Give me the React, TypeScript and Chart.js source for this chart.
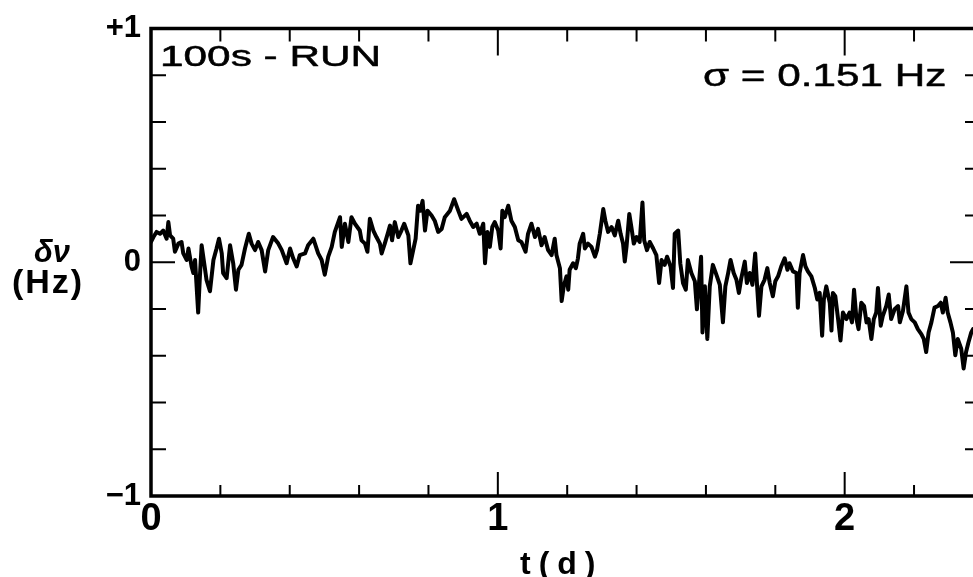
import { useEffect, useRef } from "react";
import { Chart, registerables } from "chart.js";

Chart.register(...registerables);

// Time since start of the run, in days
const tDays = [
  0.000, 0.007, 0.016, 0.026, 0.035, 0.045, 0.050, 0.055, 0.064, 0.069, 0.079, 0.088, 0.093, 0.103, 0.108, 0.117,
  0.122, 0.127, 0.136, 0.141, 0.146, 0.156, 0.160, 0.170, 0.180, 0.189, 0.196, 0.204, 0.208, 0.218, 0.228, 0.237,
  0.245, 0.252, 0.261, 0.271, 0.282, 0.290, 0.300, 0.309, 0.319, 0.329, 0.338, 0.352, 0.367, 0.377, 0.391, 0.401,
  0.410, 0.420, 0.429, 0.444, 0.453, 0.468, 0.482, 0.492, 0.501, 0.511, 0.521, 0.530, 0.545, 0.550, 0.559, 0.569,
  0.578, 0.588, 0.602,
  0.607, 0.617, 0.624, 0.631, 0.641, 0.650, 0.660, 0.665, 0.674, 0.684, 0.689, 0.695, 0.703, 0.713, 0.722, 0.730,
  0.742, 0.748, 0.756, 0.763, 0.770, 0.777, 0.783, 0.790, 0.797, 0.809, 0.818, 0.828, 0.838, 0.847, 0.862, 0.874,
  0.886, 0.895, 0.910, 0.919, 0.929, 0.939, 0.948, 0.958, 0.963, 0.970, 0.977, 0.984, 0.991, 1.001, 1.008, 1.013,
  1.020, 1.030, 1.039, 1.049, 1.059, 1.068, 1.080, 1.087, 1.097, 1.107, 1.116, 1.126, 1.135, 1.145, 1.155, 1.164,
  1.169, 1.179, 1.184,
  1.190, 1.198, 1.203, 1.207, 1.217, 1.225, 1.231, 1.236, 1.246, 1.251, 1.260, 1.270, 1.280, 1.286, 1.294, 1.304,
  1.310, 1.318, 1.328, 1.337, 1.347, 1.354, 1.361, 1.366, 1.371, 1.379, 1.385, 1.392, 1.400, 1.409, 1.417, 1.422,
  1.430, 1.438, 1.448, 1.457, 1.465, 1.472, 1.481, 1.488, 1.498, 1.505, 1.510, 1.520, 1.526, 1.534, 1.542, 1.548,
  1.558, 1.568, 1.574, 1.580, 1.586, 1.590, 1.597, 1.604, 1.611, 1.620, 1.630, 1.640, 1.649, 1.656, 1.664, 1.671,
  1.680, 1.688, 1.695, 1.702, 1.712, 1.718, 1.726, 1.734, 1.742, 1.747, 1.753, 1.760, 1.769,
  1.777, 1.784, 1.793, 1.800, 1.808, 1.817, 1.827, 1.835, 1.841, 1.851, 1.861, 1.865, 1.870, 1.880, 1.887, 1.894,
  1.904, 1.914, 1.921, 1.928, 1.935, 1.940, 1.947, 1.957, 1.962, 1.966, 1.973, 1.981, 1.988, 1.995, 2.005, 2.014,
  2.021, 2.027, 2.034, 2.040, 2.048, 2.056, 2.063, 2.069, 2.077, 2.084, 2.091, 2.096, 2.104, 2.110, 2.120, 2.127,
  2.134, 2.144, 2.154, 2.159, 2.168, 2.178, 2.184, 2.192, 2.202, 2.211, 2.221, 2.228, 2.235, 2.242, 2.250, 2.259,
  2.269, 2.277, 2.283, 2.291, 2.297, 2.305, 2.312, 2.319, 2.326, 2.336, 2.343, 2.350, 2.357, 2.365, 2.370,
];

// Frequency deviation, in Hz
const deltaNu = [
  0.087, 0.108, 0.130, 0.122, 0.136, 0.101, 0.172, 0.115, 0.101, 0.045, 0.080, 0.087, 0.038, 0.010, 0.059, -0.018,
  -0.046, 0.010, -0.215, -0.060, 0.073, -0.032, -0.075, -0.124, 0.010, 0.059, 0.101, 0.038, -0.046, -0.068, 0.073, -0.004,
  -0.117, -0.032, -0.011, 0.059, 0.122, 0.080, 0.052, 0.087, 0.052, -0.039, 0.052, 0.108, 0.080, 0.052, -0.004, 0.059,
  0.017, -0.018, 0.031, 0.038, 0.073, 0.101, 0.038, 0.010, -0.053, 0.024, 0.066, 0.130, 0.193, 0.066, 0.165, 0.087,
  0.193, 0.165, 0.136,
  0.094, 0.080, 0.045, 0.186, 0.136, 0.108, 0.080, 0.038, 0.080, 0.130, 0.157, 0.094, 0.172, 0.108, 0.136, 0.165,
  0.115, -0.004, 0.052, 0.101, 0.242, 0.221, 0.263, 0.136, 0.221, 0.200, 0.178, 0.130, 0.143, 0.193, 0.221, 0.270,
  0.221, 0.186, 0.207, 0.178, 0.151, 0.165, 0.122, 0.165, -0.004, 0.130, 0.066, 0.151, 0.172, 0.136, 0.059, 0.221,
  0.193, 0.242, 0.178, 0.151, 0.094, 0.087, 0.045, 0.122, 0.165, 0.108, 0.143, 0.073, 0.108, 0.052, 0.031, 0.101,
  0.031, -0.025, -0.166,
  -0.103, -0.060, -0.117, -0.032, -0.004, -0.025, 0.017, 0.080, 0.122, 0.059, 0.080, 0.066, 0.024, 0.052, 0.122, 0.228,
  0.178, 0.130, 0.151, 0.115, 0.178, 0.122, 0.080, 0.003, 0.066, 0.207, 0.151, 0.080, 0.108, 0.087, 0.256, 0.094,
  0.052, 0.087, 0.059, 0.031, -0.089, 0.010, -0.011, 0.024, -0.018, -0.110, 0.122, 0.136, -0.004, -0.089, -0.117, 0.010,
  -0.046, -0.081, -0.201, -0.089, 0.024, -0.300, -0.103, -0.328, -0.103, -0.011, -0.053, -0.096, -0.257, -0.103, -0.046, 0.010,
  -0.046, -0.075, -0.131, -0.068, 0.003, -0.089, -0.046, -0.096, 0.038, -0.089, -0.229, -0.103, -0.075,
  -0.025, -0.089, -0.145, -0.081, -0.060, -0.018, 0.017, -0.032, -0.004, -0.039, -0.046, -0.194, -0.046, 0.031, -0.018, -0.039,
  -0.060, -0.110, -0.159, -0.131, -0.314, -0.159, -0.103, -0.173, -0.292, -0.131, -0.145, -0.243, -0.335, -0.215, -0.243, -0.215,
  -0.257, -0.117, -0.243, -0.286, -0.173, -0.187, -0.257, -0.243, -0.328, -0.243, -0.215, -0.110, -0.271, -0.229, -0.187, -0.138,
  -0.243, -0.201, -0.187, -0.257, -0.208, -0.103, -0.215, -0.243, -0.257, -0.286, -0.307, -0.328, -0.384, -0.300, -0.257, -0.194,
  -0.187, -0.173, -0.215, -0.152, -0.215, -0.257, -0.300, -0.398, -0.328, -0.370, -0.454, -0.384, -0.342, -0.300, -0.286,
];

const xTickLabels = ["0", "1", "2"];
const yTickLabels = ["\u22121", "0", "+1"];

const runLabel = "100s - RUN";
const sigmaLabel = "\u03c3 = 0.151 Hz";
const xTitle = "t(d)";
const yTitleTop = "\u03b4\u03bd";
const yTitleBottom = "(Hz)";

const FONT = '"Liberation Sans", Arial, Helvetica, sans-serif';

const near = (a: number, b: number) => Math.abs(a - b) < 1e-6;

// Text drawn stretched sideways, with a light outline to thicken the strokes
function wideText(ctx: CanvasRenderingContext2D, text: string, x: number, y: number, size: number, sx: number) {
  ctx.save();
  ctx.translate(x, y);
  ctx.scale(sx, 1);
  ctx.font = `${size}px ${FONT}`;
  ctx.lineWidth = 0.5;
  ctx.lineJoin = "round";
  ctx.fillText(text, 0, 0);
  ctx.strokeText(text, 0, 0);
  ctx.restore();
}

// Boxed frame with inward ticks on all four sides, plus the text annotations
const framePlugin = {
  id: "frameAndText",
  afterDatasetsDraw(chart: any) {
    const { ctx, chartArea: a, scales } = chart;
    const xs = scales.x;
    const ys = scales.y;
    const rightAxis = a.right + 2;
    ctx.save();
    ctx.strokeStyle = "#000";
    ctx.fillStyle = "#000";
    ctx.lineCap = "butt";

    ctx.lineWidth = 3.5;
    ctx.beginPath();
    ctx.moveTo(a.left - 1.75, a.top);
    ctx.lineTo(a.right + 5, a.top);
    ctx.moveTo(a.left, a.top - 1.75);
    ctx.lineTo(a.left, a.bottom + 1.75);
    ctx.moveTo(a.left - 1.75, a.bottom);
    ctx.lineTo(a.right + 5, a.bottom);
    ctx.stroke();

    ctx.lineWidth = 2;
    ctx.beginPath();
    for (const t of xs.ticks) {
      const px = xs.getPixelForValue(t.value);
      const major = near(t.value, Math.round(t.value));
      ctx.moveTo(px, a.top);
      ctx.lineTo(px, a.top + (major ? 27 : 13));
      ctx.moveTo(px, a.bottom);
      ctx.lineTo(px, a.bottom - (major ? 24 : 11));
    }
    for (const t of ys.ticks) {
      const py = ys.getPixelForValue(t.value);
      const major = near(t.value, 0);
      ctx.moveTo(a.left, py);
      ctx.lineTo(a.left + (major ? 24 : 15), py);
      ctx.moveTo(rightAxis, py);
      ctx.lineTo(rightAxis - (major ? 25 : 10), py);
    }
    ctx.stroke();

    ctx.textBaseline = "alphabetic";
    ctx.textAlign = "left";

    wideText(ctx, runLabel, 160, 66, 29, 1.46);
    wideText(ctx, sigmaLabel, 703, 86, 32, 1.32);

    ctx.font = `bold 32px ${FONT}`;
    (ctx as any).letterSpacing = "8px";
    ctx.fillText(xTitle, 520, 574);
    (ctx as any).letterSpacing = "0px";

    ctx.textAlign = "center";
    ctx.font = `italic bold 31px ${FONT}`;
    ctx.fillText(yTitleTop, 52, 262);
    ctx.font = `bold 34px ${FONT}`;
    (ctx as any).letterSpacing = "2px";
    ctx.fillText(yTitleBottom, 48, 293);
    (ctx as any).letterSpacing = "0px";

    ctx.restore();
  },
};

export default function App() {
  const canvasRef = useRef<HTMLCanvasElement | null>(null);

  useEffect(() => {
    const canvas = canvasRef.current;
    if (!canvas) return;
    const points = tDays.map((t, i) => ({ x: t, y: deltaNu[i] }));
    const chart = new Chart(canvas, {
      type: "line",
      data: {
        datasets: [
          {
            data: points,
            borderColor: "#000",
            borderWidth: 4,
            pointRadius: 0,
            tension: 0,
            borderJoinStyle: "round",
            borderCapStyle: "round",
            fill: false,
          },
        ],
      },
      options: {
        responsive: false,
        animation: false,
        devicePixelRatio: 1,
        layout: { padding: { top: 22, right: 0, left: 0, bottom: 0 } },
        plugins: { legend: { display: false }, tooltip: { enabled: false } },
        scales: {
          x: {
            type: "linear",
            min: 0,
            max: 2.37,
            afterFit: (s: any) => {
              s.height = 81;
            },
            grid: { display: false, drawTicks: false },
            border: { display: false },
            ticks: {
              stepSize: 0.2,
              includeBounds: false,
              autoSkip: false,
              maxRotation: 0,
              padding: 1,
              color: "#000",
              font: { family: FONT, size: 38, weight: "bold" },
              callback: (v: any) => {
                const n = Number(v);
                const i = Math.round(n);
                return near(n, i) && i >= 0 && i < xTickLabels.length ? xTickLabels[i] : "";
              },
            },
          },
          y: {
            type: "linear",
            min: -1,
            max: 1,
            afterFit: (s: any) => {
              s.width = 151;
            },
            grid: { display: false, drawTicks: false },
            border: { display: false },
            ticks: {
              stepSize: 0.2,
              autoSkip: false,
              padding: 10,
              color: "#000",
              font: { family: FONT, size: 31, weight: "bold" },
              callback: (v: any) => {
                const n = Number(v);
                const i = Math.round(n);
                return near(n, i) ? yTickLabels[i + 1] : "";
              },
            },
          },
        },
      },
      plugins: [framePlugin],
    });
    return () => chart.destroy();
  }, []);

  return (
    <div style={{ position: "fixed", left: 0, top: 0, width: 973, height: 577, background: "#fff" }}>
      <canvas ref={canvasRef} width={973} height={577} />
    </div>
  );
}
